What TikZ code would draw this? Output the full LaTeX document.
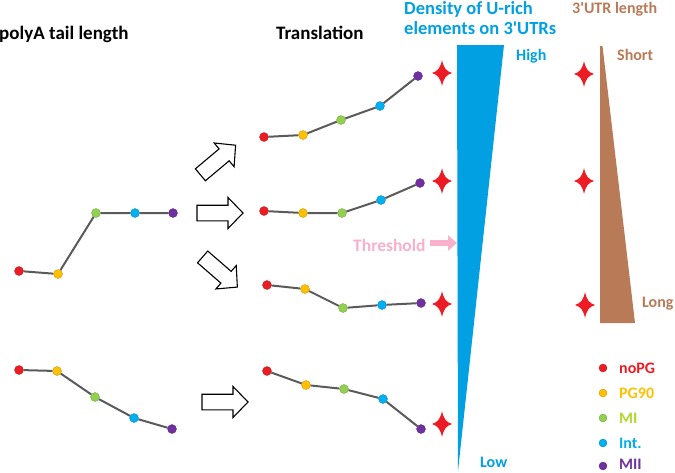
\documentclass[tikz,border=0pt]{standalone}
\usepackage{fontspec}
\setmainfont{Carlito}
\usetikzlibrary{arrows.meta}
\definecolor{cred}{RGB}{237,28,36}
\definecolor{cyel}{RGB}{255,192,0}
\definecolor{cgrn}{RGB}{146,208,80}
\definecolor{cblu}{RGB}{0,176,240}
\definecolor{cpur}{RGB}{112,48,160}
\definecolor{lgrn}{RGB}{176,216,40}
\definecolor{tblue}{RGB}{0,160,226}
\definecolor{tbrown}{RGB}{185,122,87}
\definecolor{tpink}{RGB}{248,176,204}
\definecolor{lgray}{RGB}{90,90,90}
\tikzset{
  dot/.style={circle,inner sep=0pt,minimum size=9pt,fill=#1,draw=#1!75!black,line width=0.3pt},
  link/.style={draw=lgray,line width=2pt},
  title/.style={anchor=base west,inner sep=0pt,font=\fontsize{19}{22}\selectfont\bfseries},
  lab/.style={anchor=base west,inner sep=0pt,font=\fontsize{16}{19}\selectfont\bfseries},
  star4/.pic={\fill[cred] (0,-13) .. controls (1.8,-4.5) and (4.5,-1.8) .. (10,0)
      .. controls (4.5,1.8) and (1.8,4.5) .. (0,13)
      .. controls (-1.8,4.5) and (-4.5,1.8) .. (-10,0)
      .. controls (-4.5,-1.8) and (-1.8,-4.5) .. (0,-13) -- cycle;},
  blockarr/.pic={\draw[line width=1.1pt,fill=white,line join=miter]
      (-23,-7.8) -- (8,-7.8) -- (8,-15.5) -- (23,0) -- (8,15.5) -- (8,7.8) -- (-23,7.8) -- cycle;}
}
\newcommand\mkchain[6]{%
  \node[dot=cred] (#1a) at (#2) {};
  \node[dot=cyel] (#1b) at (#3) {};
  \node[dot=cgrn] (#1c) at (#4) {};
  \node[dot=cblu] (#1d) at (#5) {};
  \node[dot=cpur] (#1e) at (#6) {};
  \draw[link] (#1a) -- (#1b) -- (#1c) -- (#1d) -- (#1e);
}
\begin{document}
\begin{tikzpicture}[x=1pt,y=-1pt]
\useasboundingbox (0,0) rectangle (675,472);
% titles
\node[title] (t1) at (-1,39) {polyA tail length};
\node[title] (t2) at (276,39) {Translation};
\node[title,text=tblue,font=\fontsize{18.5}{21}\selectfont\bfseries] (t3) at (404,14) {Density of U-rich};
\node[title,text=tblue,font=\fontsize{18.5}{21}\selectfont\bfseries] (t3b) at (404,34) {elements on 3\textquotesingle UTRs};
\node[lab,text=tbrown] (t4) at (572,13) {3\textquotesingle UTR length};
% triangles
\fill[tblue] (457,45) -- (504,45) -- (458,471) -- cycle;
\fill[tbrown] (600,46) -- (602.5,46) -- (635,323) -- (600,323) -- cycle;
\node[lab,text=tblue] (hi) at (516,60) {High};
\node[lab,text=tblue] (lo) at (480,467) {Low};
\node[lab,text=tbrown] (sh) at (617,60) {Short};
\node[lab,text=tbrown] (lg) at (642,307) {Long};
% threshold
\node[lab,text=tpink,font=\fontsize{17.5}{20}\selectfont\bfseries] (thr) at (353,251) {Threshold};
\coordinate (thrtail) at (430,243);
\coordinate (thrtip) at (457,243);
\draw[tpink,line width=6pt,-{Triangle[length=9pt,width=15pt]}] (thrtail) -- (thrtip);
% chains
\mkchain{L}{19,271}{58,274}{96,213}{135,213}{173,213}
\mkchain{M}{19,370}{57,371}{95,397}{134,418}{172,429}
\mkchain{A}{264,137}{303,135}{341,120}{380,106}{418,76}
\mkchain{B}{264,211}{303,213}{342,213}{381,200}{420,183}
\mkchain{C}{267,285}{305,289}{343,308}{382,305}{421,303}
\mkchain{D}{267,371}{306,385}{344,389}{383,399}{421,429}
% block arrows
\pic[rotate=40] at (218,160) {blockarr};
\pic at (220,213) {blockarr};
\pic[rotate=-41] at (220,272) {blockarr};
\pic at (225,402) {blockarr};
% stars
\pic at (442,73) {star4};
\pic at (442,181) {star4};
\pic at (442,304) {star4};
\pic at (442,424) {star4};
\pic at (584,74) {star4};
\pic at (584,181) {star4};
\pic at (585,305) {star4};
% legend
\node[dot=cred,minimum size=8pt] (g1) at (603,368) {};
\node[dot=cyel,minimum size=8pt] (g2) at (603,393) {};
\node[dot=cgrn,minimum size=8pt] (g3) at (603,418) {};
\node[dot=cblu,minimum size=8pt] (g4) at (603,443) {};
\node[dot=cpur,minimum size=8pt] (g5) at (603,466) {};
\node[lab,text=cred] (l1) at (619,373) {noPG};
\node[lab,text=cyel] (l2) at (619,398) {PG90};
\node[lab,text=lgrn] (l3) at (619,423) {MI};
\node[lab,text=cblu] (l4) at (619,448) {Int.};
\node[lab,text=cpur] (l5) at (619,469) {MII};
\end{tikzpicture}
\end{document}
